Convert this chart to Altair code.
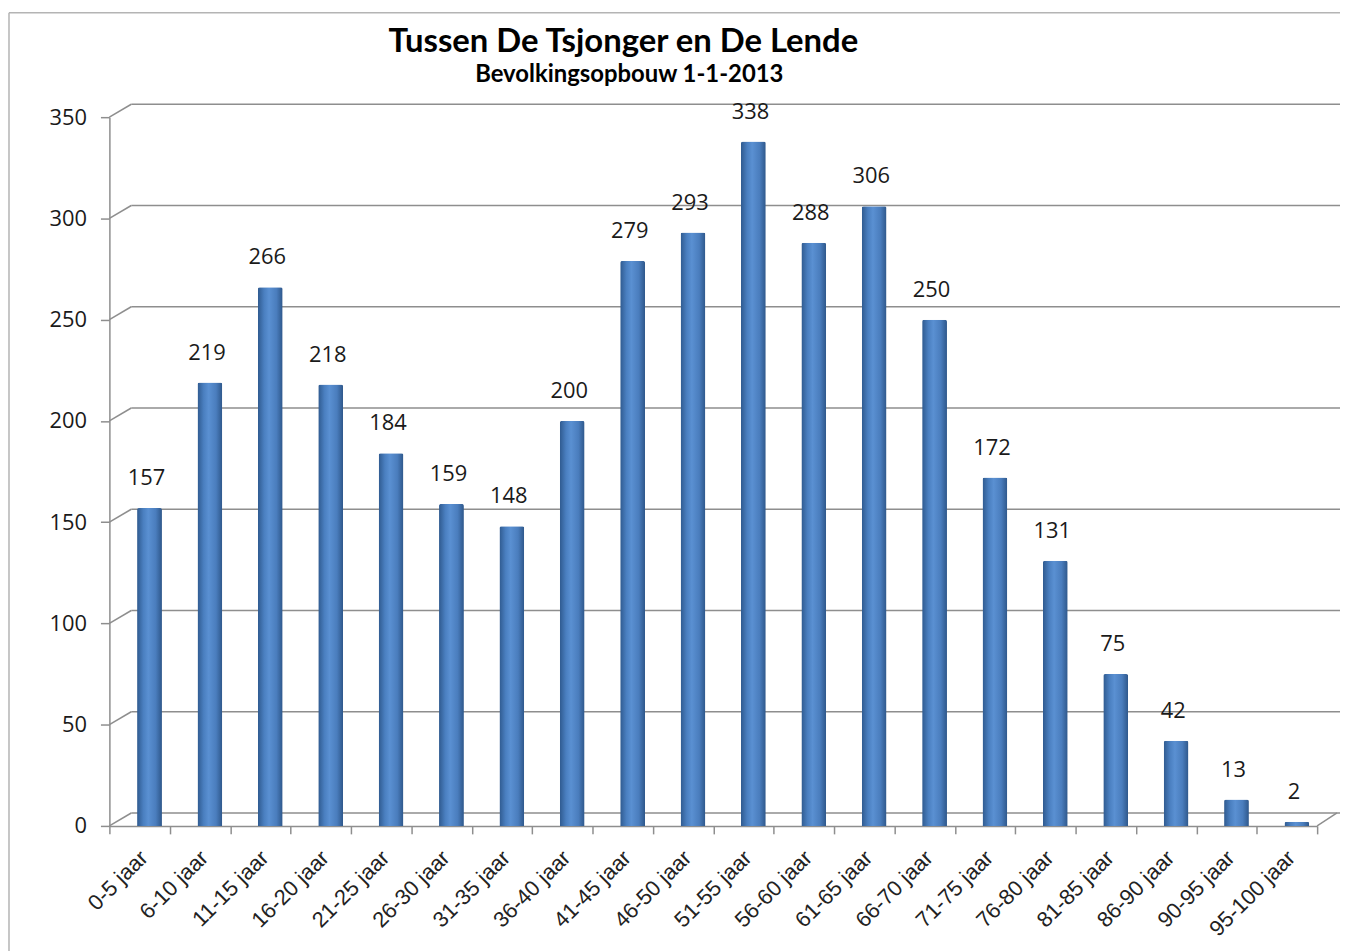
import altair as alt
import pandas as pd

categories = ["0-5 jaar", "6-10 jaar", "11-15 jaar", "16-20 jaar", "21-25 jaar",
              "26-30 jaar", "31-35 jaar", "36-40 jaar", "41-45 jaar", "46-50 jaar",
              "51-55 jaar", "56-60 jaar", "61-65 jaar", "66-70 jaar", "71-75 jaar",
              "76-80 jaar", "81-85 jaar", "86-90 jaar", "90-95 jaar", "95-100 jaar"]
values = [157, 219, 266, 218, 184, 159, 148, 200, 279, 293,
          338, 288, 306, 250, 172, 131, 75, 42, 13, 2]
y_ticks = [0, 50, 100, 150, 200, 250, 300, 350]

title_text = "Tussen De Tsjonger en De Lende"
subtitle_text = "Bevolkingsopbouw  1-1-2013"

df = pd.DataFrame({"cat": categories, "val": values})
grid_df = pd.DataFrame({"v": y_ticks})
title_df = pd.DataFrame({"t": [title_text]})
subtitle_df = pd.DataFrame({"t": [subtitle_text]})

W, H = 1215, 713
yscale = alt.Scale(domain=[0, 350], nice=False, zero=True)
xscale = alt.Scale(paddingInner=0, paddingOuter=0)

GRID = "#8E8E8E"

y_axis = alt.Axis(title=None, values=y_ticks, grid=False, labelFont="Open Sans",
                  labelFontSize=22, labelColor="#1A1A1A", domainColor=GRID,
                  domainWidth=1.5, tickColor=GRID, tickWidth=1.5, tickSize=9,
                  labelPadding=14)
x_axis = alt.Axis(title=None, labelAngle=-45, labelFont="Liberation Sans",
                  labelFontSize=22, labelColor="#222222", domainColor=GRID,
                  domainWidth=1.5, tickColor=GRID, tickWidth=1.5, tickSize=8,
                  tickBand="extent", labelPadding=13, labelOffset=-3, labelLimit=300)

gradient = alt.Gradient(
    gradient="linear", x1=0, x2=1, y1=0, y2=0,
    stops=[alt.GradientStop(color="#2F5A8F", offset=0),
           alt.GradientStop(color="#4A7FC0", offset=0.25),
           alt.GradientStop(color="#5A90D2", offset=0.45),
           alt.GradientStop(color="#4A7DBD", offset=0.75),
           alt.GradientStop(color="#2E578A", offset=1)])

# back-wall gridlines
grid = alt.Chart(grid_df).mark_rule(color=GRID, strokeWidth=1.5, yOffset=-13).encode(
    y=alt.Y("v:Q", scale=yscale, axis=y_axis),
    x=alt.value(22), x2=alt.value(1240))

# side-wall diagonals
diag = alt.Chart(grid_df).mark_rule(color=GRID, strokeWidth=1.5, y2Offset=-13).encode(
    y=alt.Y("v:Q", scale=yscale, axis=y_axis), y2=alt.Y2("v"),
    x=alt.value(0), x2=alt.value(22))

# floor right edge
floor_r = alt.Chart(grid_df).mark_rule(color=GRID, strokeWidth=1.5, y2Offset=-13).transform_filter(
    alt.datum.v == 0).encode(
    y=alt.Y("v:Q", scale=yscale, axis=y_axis), y2=alt.Y2("v"),
    x=alt.value(W), x2=alt.value(W + 20))

bars = alt.Chart(df).mark_bar(width=25, xOffset=10, color=gradient,
                              cornerRadiusTopLeft=2, cornerRadiusTopRight=2).encode(
    x=alt.X("cat:N", sort=categories, scale=xscale, axis=x_axis),
    y=alt.Y("val:Q", scale=yscale, axis=y_axis))

labels = alt.Chart(df).mark_text(font="Open Sans", fontSize=22, color="#1A1A1A",
                                 baseline="bottom", dy=-18, dx=7).encode(
    x=alt.X("cat:N", sort=categories, scale=xscale, axis=x_axis),
    y=alt.Y("val:Q", scale=yscale, axis=y_axis),
    text=alt.Text("val:Q"))

title = alt.Chart(title_df).mark_text(font="Lato", fontSize=33, fontWeight="bold",
                                      color="black", baseline="alphabetic").encode(
    x=alt.value(517), y=alt.value(-66), text="t:N")
subtitle = alt.Chart(subtitle_df).mark_text(font="Lato", fontSize=24, fontWeight="bold",
                                            color="black", baseline="alphabetic").encode(
    x=alt.value(523), y=alt.value(-35), text="t:N")

border_top = alt.Chart(title_df).mark_rule(color="#B4B4B4", strokeWidth=1.5).encode(
    x=alt.value(-101), x2=alt.value(1245), y=alt.value(-105))
border_left = alt.Chart(title_df).mark_rule(color="#B4B4B4", strokeWidth=1.5).encode(
    x=alt.value(-101), y=alt.value(-105), y2=alt.value(840))

chart = alt.layer(border_top, border_left, grid, diag, floor_r, bars, labels,
                  title, subtitle).properties(
    width=W, height=H,
    background="white",
    autosize=alt.AutoSizeParams(type="none"),
    padding={"left": 102, "top": 107, "right": 23, "bottom": 123},
).configure_view(strokeWidth=0, stroke="transparent")

chart.save("out.html", embed_options={"renderer": "svg", "actions": False})
